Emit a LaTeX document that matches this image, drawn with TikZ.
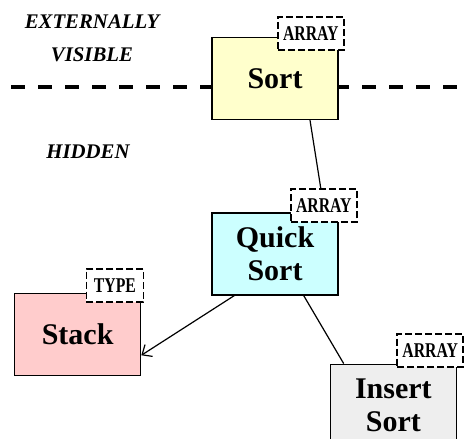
\documentclass[tikz,border=0pt]{standalone}
\usepackage{fontspec}
\setmainfont{Liberation Serif}
\usepackage{graphicx}
\usetikzlibrary{positioning, arrows.meta}
\definecolor{sortYellow}{RGB}{255,255,204}
\definecolor{quickCyan}{RGB}{204,255,255}
\definecolor{stackPink}{RGB}{255,204,204}
\definecolor{insertGrey}{RGB}{238,238,238}
\newcommand{\tagText}[1]{\scalebox{0.75}[1]{#1}}
\tikzset{module/.style = {draw, line width=0.7pt, minimum width=63pt, minimum height=41pt,
    align=center, font=\fontsize{15}{16.5}\selectfont\bfseries}}
\tikzset{tag/.style = {draw, dash pattern=on 3.5pt off 1.5pt, line width=0.9pt, fill=white,
    minimum height=16.5pt, inner sep=0pt, anchor=south east, font=\fontsize{10.5}{10.5}\selectfont\bfseries}}
\tikzset{region/.style = {align=center, font=\fontsize{10.4}{16.5}\selectfont\bfseries\itshape}}
\tikzset{link/.style = {line width=0.6pt}}

\begin{document}
\begin{tikzpicture}[x=0.5pt, y=-0.5pt, node distance=46pt]
      \useasboundingbox (0,0) rectangle (466,439);

      \coordinate (sepLeft) at (11,87);
      \coordinate (sepRight) at (466,87);
      \draw[line width=2pt, dash pattern=on 7pt off 6.5pt] (sepLeft) -- (sepRight);

      \node[region] (visible) at (92,38) {EXTERNALLY\\VISIBLE};
      \node[region] (hidden) at (88,152) {HIDDEN};

      \node[module, fill=sortYellow] (sort) at (275,78.5) {Sort};

      \node[module, fill=quickCyan] (quickSort) [below = of sort] {Quick\\Sort};

      \node[module, fill=stackPink] (stack)
        [below left = -1.5pt and 35pt of quickSort] {Stack};

      \node[module, fill=insertGrey] (insertSort)
        [below right = 34pt and -4.5pt of quickSort] {Insert\\Sort};

      % dashed type tags
      \node[tag, minimum width=33pt] (sortTag)
        at ([xshift=3pt, yshift=-7pt]sort.north east) {\tagText{ARRAY}};
      \node[tag, minimum width=33pt] (quickTag)
        at ([xshift=9.5pt, yshift=-5.5pt]quickSort.north east) {\tagText{ARRAY}};
      \node[tag, minimum width=28.5pt] (stackTag)
        at ([xshift=1.5pt, yshift=-5pt]stack.north east) {\tagText{TYPE}};
      \node[tag, minimum width=33pt] (insertTag)
        at ([xshift=3.5pt, yshift=-2pt]insertSort.north east) {\tagText{ARRAY}};

      \draw[link] ([xshift=17.5pt]sort.south) -- ([xshift=-1.5pt]quickTag.north);
      \draw[link, -{Straight Barb[length=4pt, width=7pt]}]
        ([xshift=11.5pt]quickSort.south west) -- ([yshift=-10.5pt]stack.east);
      \draw[link] ([xshift=-17.5pt]quickSort.south east) -- ([xshift=7pt]insertSort.north west);
\end{tikzpicture}
\end{document}
